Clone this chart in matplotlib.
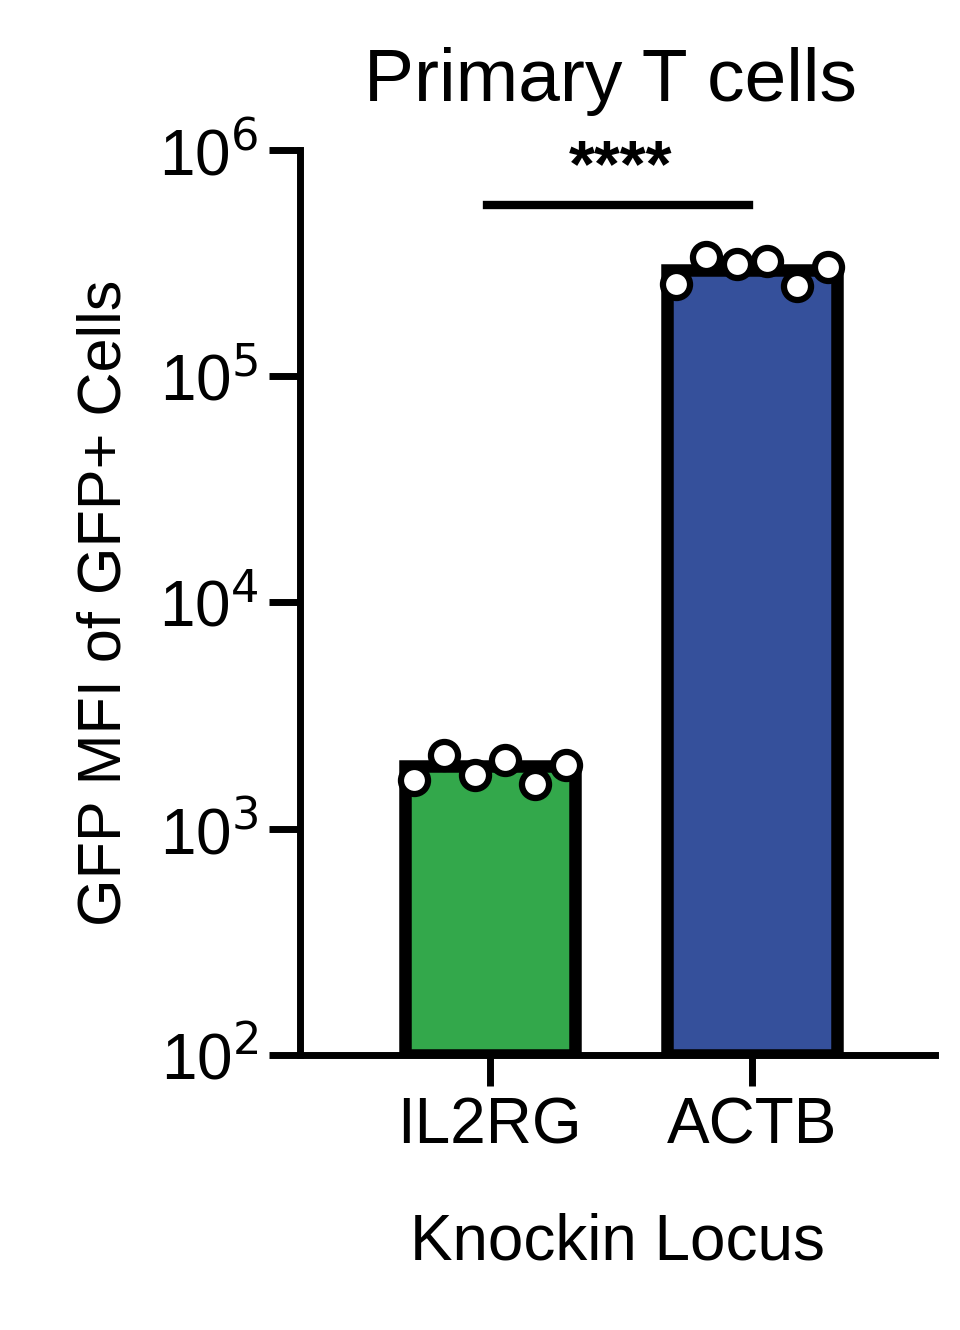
import numpy as np
import matplotlib.pyplot as plt

loci = ["IL2RG", "ACTB"]
means = [1800, 295000]
colors = ["#33a84b", "#35509b"]
il2rg_pts = [1650, 2120, 1730, 2020, 1570, 1920]
actb_pts = [255000, 336000, 313000, 323000, 250000, 303000]
pts = [il2rg_pts, actb_pts]
sig_text = "****"

plt.rcParams["font.family"] = ["Liberation Sans", "DejaVu Sans"]
fig = plt.figure(figsize=(9.6, 13.3), dpi=100)
ax = fig.add_axes([0.3125, 0.2068, 0.661, 0.6804])

x = np.arange(len(loci))
ax.bar(x, means, width=0.65, color=colors, edgecolor="black", linewidth=9, bottom=100, zorder=2)
for i, vals in enumerate(pts):
    xs = np.linspace(x[i] - 0.29, x[i] + 0.29, len(vals))
    ax.scatter(xs, vals, s=380, facecolor="white", edgecolor="black", linewidth=4.5, zorder=3, clip_on=False)

ax.set_yscale("log")
ax.set_ylim(100, 1e6)
ax.set_xlim(-0.725, 1.698)
ax.set_yticks([1e2, 1e3, 1e4, 1e5, 1e6])
ax.set_yticklabels(["10$^2$", "10$^3$", "10$^4$", "10$^5$", "10$^6$"])
ax.minorticks_off()
ax.set_xticks(x)
ax.set_xticklabels(loci)
for s in ["top", "right"]:
    ax.spines[s].set_visible(False)
for s in ["left", "bottom"]:
    ax.spines[s].set_linewidth(5)
ax.tick_params(width=5, length=22, labelsize=46, pad=8)

ax.plot([x[0] - 0.01, x[1] - 0.01], [5.7e5, 5.7e5], color="black", lw=6, clip_on=False)
ax.text(0.5, 6.0e5, sig_text, ha="center", va="bottom", fontsize=48, fontweight="bold")

ax.set_title("Primary T cells", fontsize=54, pad=35, x=0.49)
ax.set_ylabel("GFP MFI of GFP+ Cells", fontsize=44, labelpad=18)
ax.set_xlabel("Knockin Locus", fontsize=46, labelpad=40)

fig.savefig("out.png", dpi=100)
